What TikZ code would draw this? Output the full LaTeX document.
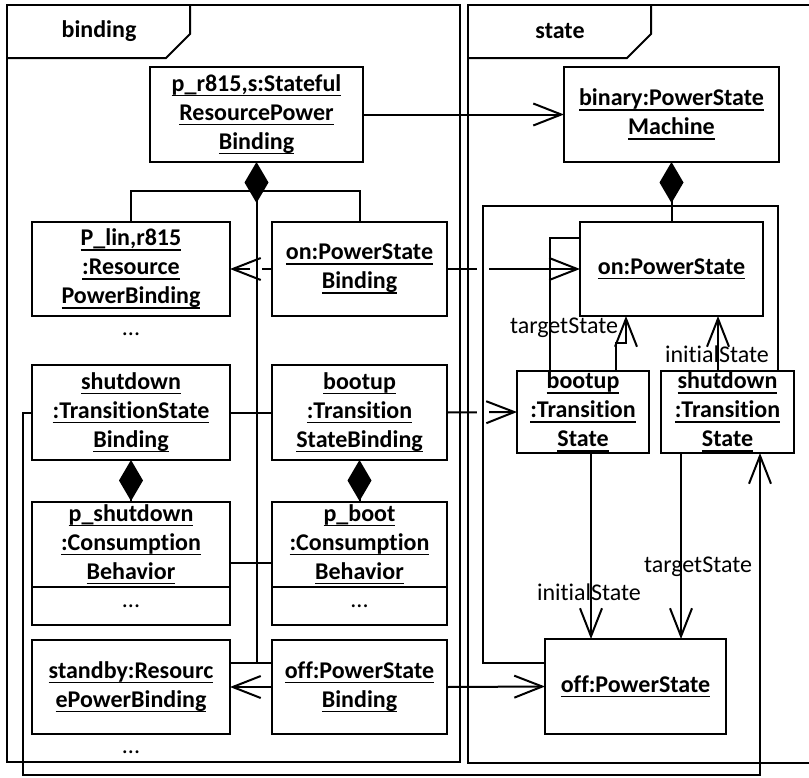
\documentclass[tikz,border=0pt]{standalone}
\usepackage{fontspec}
\setmainfont{Carlito}[Ligatures=NoCommon]
\usetikzlibrary{arrows.meta}
\newcommand\uln[1]{\setbox0\hbox{#1}\leavevmode\rlap{\rule[-5pt]{\wd0}{1.7pt}}\box0}
\begin{document}
\begin{tikzpicture}[x=1pt,y=-1pt,
  every node/.style={inner sep=0pt, outer sep=0pt},
  obj/.style={draw, line width=2pt, fill=white, align=center, font=\bfseries\fontsize{24}{29}\selectfont},
  lbl/.style={font=\fontsize{24}{29}\selectfont},
  flbl/.style={font=\bfseries\fontsize{24}{29}\selectfont},
  frame/.style={draw, line width=2pt},
  conn/.style={draw, line width=2pt},
  openarr/.style={-{Straight Barb[length=28pt,width=22pt]}},
  comp/.style={{Diamond[length=41pt,width=24pt]}-},
  gapw/.style={draw=white, line width=3.5pt}
]
\useasboundingbox (0,0) rectangle (809,777);

% frames
\draw[frame] (7,5) rectangle (460,762);
\draw[frame] (7,58) -- (166,58) -- (190,34) -- (190,5);
\node[flbl] (fbind) at (99,31) {binding};
\draw[frame] (815,5) -- (468,5) -- (468,763) -- (815,763);
\draw[frame] (468,58) -- (627,58) -- (651,34) -- (651,5);
\node[flbl] (fstate) at (560,31) {state};

% binding objects
\node[obj, minimum width=213, minimum height=95] (pr815) at (256.5,114.5)
  {\uln{p\_r815,s:Stateful}\\\uln{ResourcePower}\\\uln{Binding}};
\node[obj, minimum width=198, minimum height=94] (plin) at (131,269)
  {\uln{P\_lin,r815}\\\uln{:Resource}\\\uln{PowerBinding}};
\node[obj, minimum width=175, minimum height=94] (onpsb) at (359.5,269)
  {\uln{on:PowerState}\\\uln{Binding}};
\node[lbl] (dots1) at (131,334) {...};
\node[obj, minimum width=198, minimum height=95] (sdtsb) at (131,412.5)
  {\uln{shutdown}\\\uln{:TransitionState}\\\uln{Binding}};
\node[obj, minimum width=175, minimum height=95] (bttsb) at (359.5,412.5)
  {\uln{bootup}\\\uln{:Transition}\\\uln{StateBinding}};
\node[obj, minimum width=198, minimum height=85] (psd) at (131,544.5)
  {\uln{p\_shutdown}\\\uln{:Consumption}\\\uln{Behavior}};
\node[obj, font=\fontsize{24}{29}\selectfont, minimum width=198, minimum height=38] (psdx) at (131,606) {...};
\node[obj, minimum width=175, minimum height=85] (pbt) at (359.5,544.5)
  {\uln{p\_boot}\\\uln{:Consumption}\\\uln{Behavior}};
\node[obj, font=\fontsize{24}{29}\selectfont, minimum width=175, minimum height=38] (pbtx) at (359.5,606) {...};
\node[obj, minimum width=198, minimum height=94] (stby) at (131,687)
  {\uln{standby:Resourc}\\\uln{ePowerBinding}};
\node[obj, minimum width=175, minimum height=94] (offpsb) at (359.5,687)
  {\uln{off:PowerState}\\\uln{Binding}};
\node[lbl] (dots2) at (131,752) {...};

% state objects
\node[obj, minimum width=215, minimum height=95] (binary) at (671.5,114.5)
  {\uln{binary:PowerState}\\\uln{Machine}};
\node[obj, minimum width=183, minimum height=94] (onps) at (671.5,269)
  {\uln{on:PowerState}};
\node[obj, minimum width=132, minimum height=82] (btts) at (583,412)
  {\uln{bootup}\\\uln{:Transition}\\\uln{State}};
\node[obj, minimum width=133, minimum height=82] (sdts) at (727.5,412)
  {\uln{shutdown}\\\uln{:Transition}\\\uln{State}};
\node[obj, minimum width=181, minimum height=95] (offps) at (635.5,686.5)
  {\uln{off:PowerState}};

% horizontal connectors
\draw[conn, openarr] (pr815.east) -- (binary.west);
\draw[conn, openarr] (onpsb.west) -- (plin.east);
\draw[conn, openarr] (onpsb.east) -- (onps.west);
\draw[conn, openarr] (bttsb.east) -- (btts.west);
\draw[conn, openarr] (offpsb.west) -- (stby.east);
\draw[conn, openarr] (offpsb.east) -- (offps.west);
\draw[conn] (sdtsb.east) -- (bttsb.west);
\draw[conn] ([yshift=-18.5pt]psd.east) -- ([yshift=-18.5pt]pbt.west);
\draw[conn] ([yshift=24pt]stby.east) -- ([yshift=24pt]offpsb.west);
\draw[conn] (plin.north) -- ++(0,-31) -| (onpsb.north);

% line-jump gaps
\draw[gapw] (250,269) -- (262,269);
\draw[gapw] (477,269) -- (489,269);
\draw[gapw] (477,412.5) -- (489,412.5);

% binding composition
\coordinate (ytrunk) at (0,663);
\draw[conn, comp] (pr815.south) -- (pr815.south |- ytrunk);
\draw[conn, comp] (sdtsb.south) -- (psd.north);
\draw[conn, comp] (bttsb.south) -- (pbt.north);

% state composition
\coordinate (ctl) at (483,206);
\draw[conn, comp] (binary.south) -- (onps.north);
\draw[conn] ([yshift=23.5pt]offps.west) -| (ctl) -| ([xshift=50.5pt]sdts.north);
\draw[conn] ([yshift=31pt]onps.west) -| ([xshift=-33pt]btts.north);

% state transitions
\draw[conn, openarr] ([xshift=33pt]btts.north) -- ++(0,-28) -| ([xshift=-45.5pt]onps.south);
\node[lbl] (lt1) at (564,328) {targetState};
\draw[conn, openarr] ([xshift=-9.5pt]sdts.north) -- ([xshift=-9.5pt]sdts.north |- onps.south);
\node[lbl] (li1) at (717,354) {initialState};
\draw[conn, openarr] ([xshift=8pt]btts.south) -- ([xshift=8pt]btts.south |- offps.north);
\node[lbl] (li2) at (589,592) {initialState};
\draw[conn, openarr] ([xshift=-46.5pt]sdts.south) -- ([xshift=-46.5pt]sdts.south |- offps.north);
\node[lbl] (lt2) at (698,567) {targetState};

% shutdown binding to shutdown state
\coordinate (ybot) at (0,775);
\draw[conn, openarr] (sdtsb.west) -- ++(-9,0) coordinate (lp) -- (lp |- ybot) -| ([xshift=32.5pt]sdts.south);
\end{tikzpicture}
\end{document}
